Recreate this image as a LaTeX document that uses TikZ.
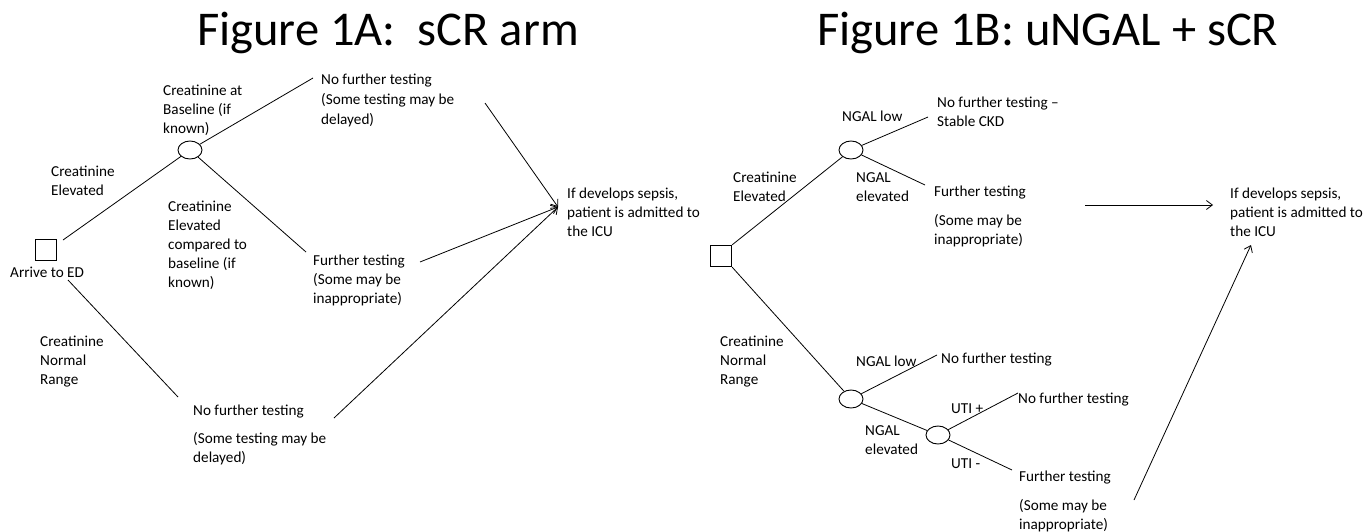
\documentclass[tikz,border=0pt]{standalone}
\usepackage{fontspec}
\setmainfont{Carlito}
\usetikzlibrary{shapes.geometric,arrows.meta}
\newcommand{\ml}[1]{\begin{tabular}[t]{@{}l@{}}#1\end{tabular}}
\begin{document}
\begin{tikzpicture}[x=1pt,y=-1pt,
  lbl/.style={anchor=base west,inner sep=0pt,font=\fontsize{15.2}{19}\selectfont},
  ttl/.style={anchor=base west,inner sep=0pt,font=\fontsize{48.5}{58}\selectfont},
  sqbox/.style={draw,line width=0.9pt,minimum size=20.5pt,inner sep=0pt},
  chance/.style={draw,ellipse,line width=0.9pt,minimum width=24pt,minimum height=18pt,inner sep=0pt},
  edge/.style={line width=0.8pt},
  arr/.style={line width=0.8pt,-{Straight Barb[length=6pt,width=9pt]}}]
\useasboundingbox (0,0) rectangle (1369,531);

% Titles
\node[ttl] (titleA) at (197,45) {Figure 1A:\ \ sCR arm};
\node[ttl] (titleB) at (817,45) {Figure 1B: uNGAL + sCR};

% ---------- Figure 1A ----------
\node[sqbox] (sq1) at (46,250) {};
\node[chance] (c1) at (190,150) {};

\node[lbl] (baseA) at (163,95.5) {\ml{Creatinine at\\Baseline (if\\known)}};
\node[lbl] (elevA) at (51,176.5) {\ml{Creatinine\\Elevated}};
\node[lbl] (compA) at (168,211.5) {\ml{Creatinine\\Elevated\\compared to\\baseline (if\\known)}};
\node[lbl] (nfA1) at (321,84.5) {\ml{No further testing\\[1pt](Some testing may be\\[1pt]delayed)}};
\node[lbl] (ftA) at (313,265.5) {\ml{Further testing\\(Some may be\\inappropriate)}};
\node[lbl] (edA) at (10,277.5) {Arrive to ED};
\node[lbl] (normA) at (40,346.5) {\ml{Creatinine\\Normal\\Range}};
\node[lbl] (nfA2) at (193,415.5) {\ml{No further testing\\[9pt](Some testing may be\\delayed)}};
\node[lbl] (icuA) at (567,198.5) {\ml{If develops sepsis,\\patient is admitted to\\the ICU}};

\coordinate (a1) at (63,240);
\coordinate (e1) at (313,78);
\coordinate (e2) at (306,252);
\coordinate (s3) at (68,280);
\coordinate (e3) at (178,397);
\coordinate (tipA) at (558,207);
\coordinate (f1) at (485,103);
\coordinate (f2) at (420,262);
\coordinate (f3) at (334,418);

\draw[edge] (a1) -- (c1);
\draw[edge] (c1) -- (e1);
\draw[edge] (c1) -- (e2);
\draw[edge] (s3) -- (e3);
\draw[arr] (f1) -- (tipA);
\draw[arr] (f2) -- (tipA);
\draw[arr] (f3) -- (tipA);

% ---------- Figure 1B ----------
\node[sqbox,minimum size=21.5pt] (sq2) at (721,256) {};
\node[chance] (c2) at (851,150) {};
\node[chance] (c3) at (851,399) {};
\node[chance] (c4) at (938,435) {};

\node[lbl] (nglB1) at (842,121.5) {NGAL low};
\node[lbl] (nfB1) at (937,107.5) {\ml{No further testing –\\Stable CKD}};
\node[lbl] (elevB) at (733,182.5) {\ml{Creatinine\\Elevated}};
\node[lbl] (ngeB1) at (856,182.5) {\ml{NGAL\\elevated}};
\node[lbl] (ftB1) at (934,196.5) {\ml{Further testing\\[10pt](Some may be\\inappropriate)}};
\node[lbl] (icuB) at (1230,198.5) {\ml{If develops sepsis,\\patient is admitted to\\the ICU}};
\node[lbl] (normB) at (720,346) {\ml{Creatinine\\Normal\\Range}};
\node[lbl] (nglB2) at (856,366) {NGAL low};
\node[lbl] (nfB2) at (941,363) {No further testing};
\node[lbl] (utiP) at (951,413.5) {UTI +};
\node[lbl] (nfB3) at (1018,403) {No further testing};
\node[lbl] (ngeB2) at (865,435) {\ml{NGAL\\elevated}};
\node[lbl] (utiM) at (951,468) {UTI -};
\node[lbl] (ftB2) at (1019,481) {\ml{Further testing\\[10pt](Some may be\\inappropriate)}};

\coordinate (g1) at (928,117);
\coordinate (g2) at (925,185);
\coordinate (g3) at (937,355);
\coordinate (g4) at (1018,393);
\coordinate (g5) at (1012,470);
\coordinate (h1) at (1085,205);
\coordinate (h1t) at (1213,205);
\coordinate (h2) at (1134,500);
\coordinate (h2t) at (1251,245);

\draw[edge] (sq2.north east) -- (c2);
\draw[edge] (c2) -- (g1);
\draw[edge] (c2) -- (g2);
\draw[edge] (sq2.south east) -- (c3);
\draw[edge] (c3) -- (g3);
\draw[edge] (c3) -- (c4);
\draw[edge] (c4) -- (g4);
\draw[edge] (c4) -- (g5);
\draw[arr] (h1) -- (h1t);
\draw[arr] (h2) -- (h2t);
\end{tikzpicture}
\end{document}
